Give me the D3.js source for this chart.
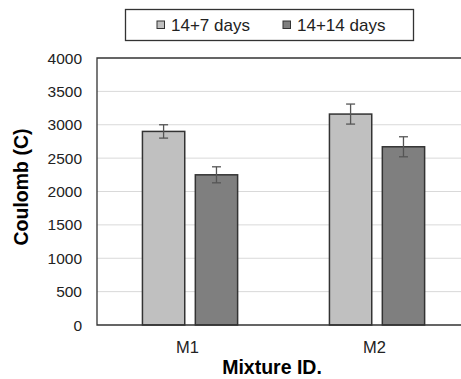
<!doctype html>
<html>
  <head>
    <script src="https://cdnjs.cloudflare.com/ajax/libs/d3/7.8.5/d3.min.js"></script>
    <style>
      body { margin: 0; background: #fff; }
      text { font-family: Arial, "Liberation Sans", sans-serif; }
    </style>
  </head>
  <body>
    <svg width="461" height="379"></svg>

    <script>
        // data
        var mixtures = ["M1", "M2"];
        var seriesNames = ["14+7 days", "14+14 days"];
        var days7 = [2900, 3160];
        var days14 = [2250, 2670];
        var err7 = [100, 150];
        var err14 = [120, 150];
        var yTicks = [0, 500, 1000, 1500, 2000, 2500, 3000, 3500, 4000];

        var colors = ["#c0c0c0", "#7f7f7f"];
        var rows = [];
        mixtures.forEach((m, i) => {
            rows.push({mix: m, s: seriesNames[0], v: days7[i], e: err7[i], c: colors[0]});
            rows.push({mix: m, s: seriesNames[1], v: days14[i], e: err14[i], c: colors[1]});
        });

        var svg = d3.select("svg");
        var pLeft = 97, pTop = 58, pBottom = 325, pRight = 471;

        var x0 = d3.scaleBand().domain(mixtures).range([pLeft, pRight]);
        var x1 = d3.scaleBand().domain(seriesNames)
            .range([x0.bandwidth() * 0.243, x0.bandwidth() * 0.752])
            .paddingInner(0.2);
        var y = d3.scaleLinear().domain([0, 4000]).range([pBottom, pTop]);

        // gridlines
        svg.append("g").selectAll("line")
            .data(yTicks.slice(1, -1))
            .enter().append("line")
            .attr("x1", pLeft).attr("x2", 461)
            .attr("y1", d => y(d)).attr("y2", d => y(d))
            .attr("stroke", "#d9d9d9").attr("stroke-width", 1);

        // y axis labels
        svg.append("g").selectAll("text")
            .data(yTicks)
            .enter().append("text")
            .attr("x", 82).attr("y", d => y(d) + 5.5)
            .attr("text-anchor", "end")
            .attr("font-size", 15.5)
            .attr("fill", "#222")
            .text(d => d);

        // bars
        svg.append("g").selectAll("rect")
            .data(rows)
            .enter().append("rect")
            .attr("x", d => x0(d.mix) + x1(d.s))
            .attr("width", x1.bandwidth())
            .attr("y", d => y(d.v))
            .attr("height", d => y(0) - y(d.v))
            .attr("fill", d => d.c)
            .attr("stroke", "#333")
            .attr("stroke-width", 1.5);

        // error bars
        var eb = svg.append("g").attr("stroke", "#555").attr("stroke-width", 1.3);
        rows.forEach(d => {
            var cx = x0(d.mix) + x1(d.s) + x1.bandwidth() / 2;
            eb.append("line").attr("x1", cx).attr("x2", cx)
                .attr("y1", y(d.v + d.e)).attr("y2", y(d.v - d.e));
            [d.v + d.e, d.v - d.e].forEach(v => {
                eb.append("line").attr("x1", cx - 4.5).attr("x2", cx + 4.5)
                    .attr("y1", y(v)).attr("y2", y(v));
            });
        });

        // plot frame (right side falls off the picture)
        svg.append("path")
            .attr("d", "M461," + pTop + "H" + pLeft + "V" + pBottom + "H461")
            .attr("fill", "none").attr("stroke", "#333").attr("stroke-width", 1.3);

        // x labels
        svg.append("g").selectAll("text")
            .data(mixtures)
            .enter().append("text")
            .attr("x", d => x0(d) + x0.bandwidth() / 2 - 3)
            .attr("y", 353)
            .attr("text-anchor", "middle")
            .attr("font-size", 16.5)
            .attr("fill", "#222")
            .text(d => d);

        svg.append("text")
            .attr("x", 272).attr("y", 374)
            .attr("text-anchor", "middle")
            .attr("font-size", 19.5).attr("font-weight", "bold")
            .text("Mixture ID.");

        svg.append("text")
            .attr("transform", "translate(28,187) rotate(-90)")
            .attr("text-anchor", "middle")
            .attr("font-size", 19.5).attr("font-weight", "bold")
            .text("Coulomb (C)");

        // legend
        var lg = svg.append("g");
        lg.append("rect").attr("x", 125.5).attr("y", 9.5).attr("width", 288).attr("height", 31)
            .attr("fill", "#fff").attr("stroke", "#333").attr("stroke-width", 1.3);
        var lx = [157, 283];
        seriesNames.forEach((s, i) => {
            lg.append("rect").attr("x", lx[i]).attr("y", 21).attr("width", 7.5).attr("height", 7.5)
                .attr("fill", colors[i]).attr("stroke", "#333").attr("stroke-width", 1);
            lg.append("text").attr("x", lx[i] + 14).attr("y", 31)
                .attr("font-size", 17).attr("fill", "#222")
                .text(s);
        });
    </script>
  </body>
</html>
